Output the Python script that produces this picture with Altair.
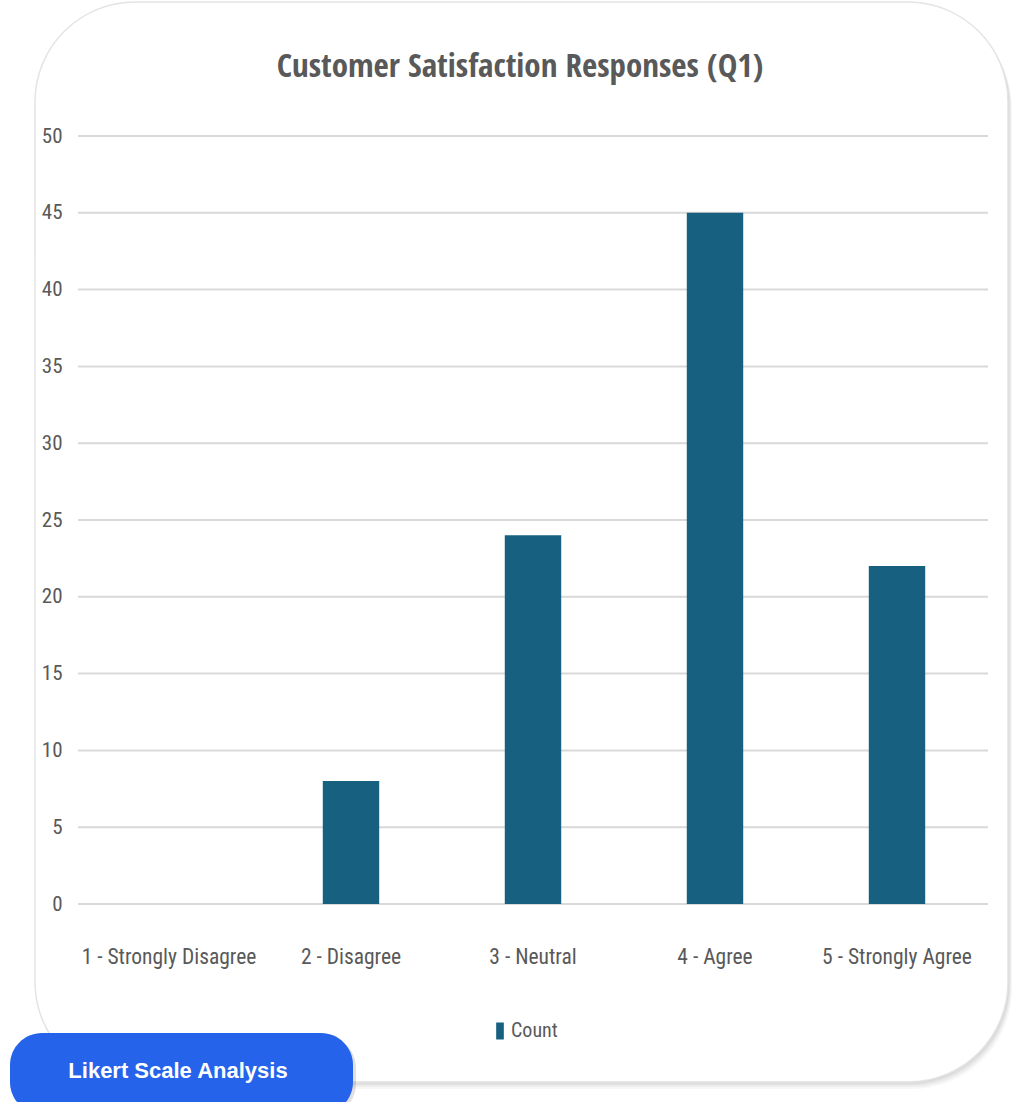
import altair as alt
import pandas as pd

# Survey responses for question 1
categories = ["1 - Strongly Disagree", "2 - Disagree", "3 - Neutral", "4 - Agree", "5 - Strongly Agree"]
counts = [0, 8, 24, 45, 22]
series_name = "Count"
y_ticks = [0, 5, 10, 15, 20, 25, 30, 35, 40, 45, 50]

title_text = "Customer Satisfaction Responses (Q1)"
badge_text = "Likert Scale Analysis"

TITLE_FONT = "Open Sans Condensed, Roboto Condensed, sans-serif"
LABEL_FONT = "Roboto Condensed, DejaVu Sans Condensed, sans-serif"
TEXT_GREY = "#595959"
BAR_COLOR = "#17607f"

bars_df = pd.DataFrame({"Response": categories, "Count": counts, "Series": [series_name] * len(categories)})
grid_df = pd.DataFrame({"Count": y_ticks})
one = pd.DataFrame({"k": [0]})

x_enc = alt.X(
    "Response:N",
    sort=categories,
    scale=alt.Scale(paddingInner=0.69, paddingOuter=0.345),
    axis=alt.Axis(
        title=None, labelAngle=0, ticks=False, domain=False, grid=False, labelLimit=0,
        labelPadding=42, labelFont=LABEL_FONT, labelFontSize=21.5, labelColor=TEXT_GREY,
        zindex=1,
    ),
)
y_scale = alt.Scale(domain=[0, 50], nice=False)
y_axis = alt.Axis(
    title=None, values=y_ticks, ticks=False, domain=False, grid=False,
    labelPadding=16, labelFont=LABEL_FONT, labelFontSize=21, labelColor=TEXT_GREY,
    zindex=1,
)

# card background with a soft drop shadow
shadow_layers = [
    alt.Chart(one).mark_rect(cornerRadius=100, fill="black", opacity=op).encode(
        x=alt.value(-43 + dx), x2=alt.value(930 + dx),
        y=alt.value(-134 + dy), y2=alt.value(946 + dy),
    )
    for dx, dy, op in [(1, 1, 0.05), (2, 3, 0.05), (3, 5, 0.04), (4, 7, 0.03)]
]
card = alt.Chart(one).mark_rect(
    cornerRadius=100, fill="white", stroke="#e4e4e4", strokeWidth=1.5
).encode(x=alt.value(-43), x2=alt.value(930), y=alt.value(-134), y2=alt.value(946))

title = alt.Chart(one).mark_text(
    text=title_text, font=TITLE_FONT, fontSize=33, fontWeight="bold", color=TEXT_GREY,
    align="center", baseline="alphabetic",
).encode(x=alt.value(442), y=alt.value(-59))

grid = alt.Chart(grid_df).mark_rule(color="#d9d9d9", strokeWidth=2).encode(
    y=alt.Y("Count:Q", scale=y_scale, axis=y_axis)
)

bars = alt.Chart(bars_df).mark_bar().encode(
    x=x_enc,
    y=alt.Y("Count:Q", scale=y_scale, axis=y_axis),
    color=alt.Color(
        "Series:N",
        scale=alt.Scale(domain=[series_name], range=[BAR_COLOR]),
        legend=alt.Legend(
            title=None, orient="none", legendX=412, legendY=885,
            symbolType="M-0.45,-1H0.45V1H-0.45Z", symbolSize=289, symbolStrokeWidth=0,
            labelFont=LABEL_FONT, labelFontSize=20, labelColor=TEXT_GREY, labelOffset=1,
        ),
    ),
)

# badge in the lower-left corner
badge_shadow = alt.Chart(one).mark_rect(cornerRadius=32, fill="black", opacity=0.12).encode(
    x=alt.value(-66), x2=alt.value(278), y=alt.value(900), y2=alt.value(980)
)
badge = alt.Chart(one).mark_rect(cornerRadius=32, fill="#2563eb").encode(
    x=alt.value(-68), x2=alt.value(275), y=alt.value(897), y2=alt.value(978)
)
badge_label = alt.Chart(one).mark_text(
    text=badge_text, font="Liberation Sans, Arial, sans-serif", fontSize=22,
    fontWeight="bold", color="white", align="center", baseline="middle",
).encode(x=alt.value(100), y=alt.value(935))

chart = alt.layer(
    *shadow_layers, card, title, grid, bars, badge_shadow, badge, badge_label
).properties(
    width=910,
    height=768,
    padding={"left": 78, "top": 136, "right": 29, "bottom": 198},
    autosize=alt.AutoSizeParams(type="none"),
    background="white",
).configure_view(stroke=None)

chart.save("out.html", embed_options={"renderer": "svg", "actions": False})
